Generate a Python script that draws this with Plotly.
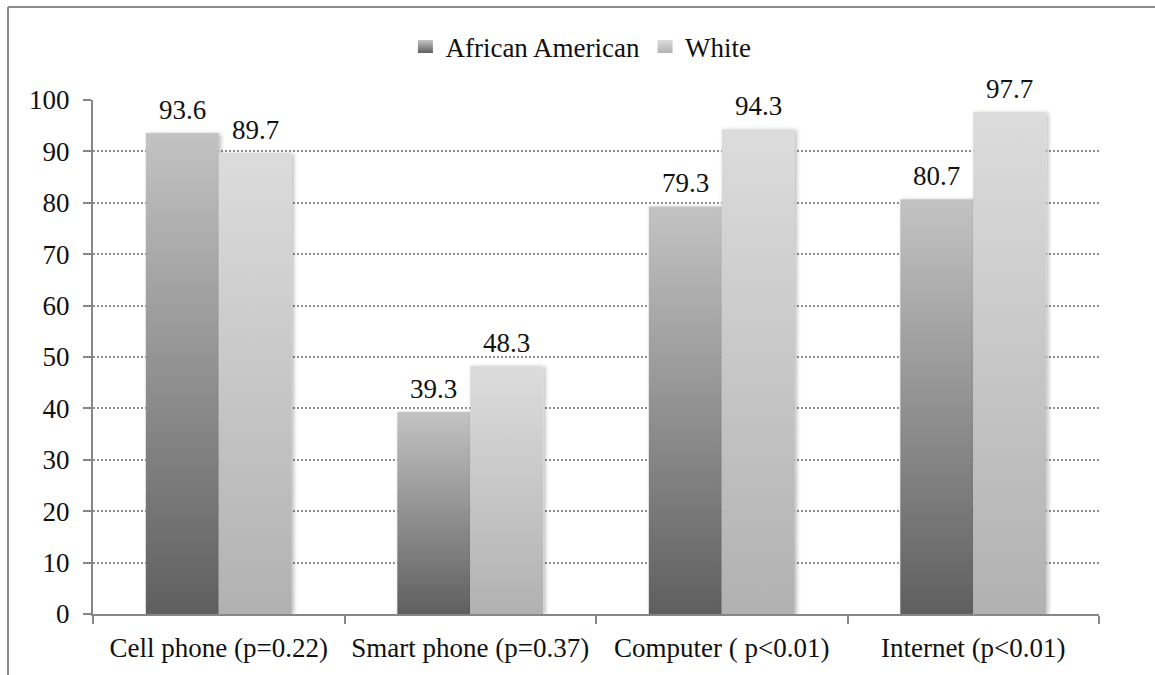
import json
import plotly.graph_objects as go

# Device-ownership rates (%) by group
categories = ["Cell phone (p=0.22)", "Smart phone (p=0.37)", "Computer ( p<0.01)", "Internet (p<0.01)"]
african_american = [93.6, 39.3, 79.3, 80.7]
white = [89.7, 48.3, 94.3, 97.7]
y_ticks = [0, 10, 20, 30, 40, 50, 60, 70, 80, 90, 100]

W, H = 1155, 675
ML, MR, MT, MB = 93, 56, 100, 61
FONT = "Liberation Serif"
FS = 27
AXIS_GREY = "#878787"
BARGAP = 0.42

# bottom -> top gradient stops for each series
GRADIENTS = [
    ["#5f5f5f", "#c3c3c3"],
    ["#b1b1b1", "#dcdcdc"],
]

series = [("African American", african_american, "#909090"),
          ("White", white, "#c8c8c8")]

fig = go.Figure()
for name, vals, col in series:
    fig.add_trace(go.Bar(
        name=name, x=categories, y=vals,
        marker=dict(color=col, line=dict(width=0)),
        cliponaxis=False,
    ))

# value labels above each bar, offset to the centre of its bar in the group
pw = W - ML - MR
ph = H - MT - MB
bar_px = pw / len(categories) * (1 - BARGAP) / len(series)
annotations = []
for k, (name, vals, _) in enumerate(series):
    shift = (k - (len(series) - 1) / 2) * bar_px
    for c, v in zip(categories, vals):
        annotations.append(dict(
            x=c, y=v, xref="x", yref="y", text=f"{v:.1f}", showarrow=False,
            xshift=shift, yshift=23, yanchor="middle", xanchor="center",
            font=dict(family=FONT, size=FS, color="#111"),
        ))

# frame line along the top and left edges of the figure
def px_x(p):
    return (p - ML) / pw
def px_y(p):
    return 1 - (p - MT) / ph

frame = dict(type="line", xref="paper", yref="paper", line=dict(color="#8c8c8c", width=2), layer="above")
shapes = [
    dict(frame, x0=px_x(8), x1=px_x(W + 2), y0=px_y(7), y1=px_y(7)),
    dict(frame, x0=px_x(8), x1=px_x(8), y0=px_y(7), y1=px_y(H + 2)),
]

fig.update_layout(
    width=W, height=H,
    margin=dict(l=ML, r=MR, t=MT, b=MB, autoexpand=False),
    paper_bgcolor="white", plot_bgcolor="white",
    barmode="group", bargap=BARGAP, bargroupgap=0,
    font=dict(family=FONT, size=FS, color="#111"),
    showlegend=True,
    legend=dict(orientation="h", x=0.485, xanchor="center", y=px_y(47), yanchor="middle",
                font=dict(family=FONT, size=FS, color="#111"),
                itemwidth=30, tracegroupgap=0, bgcolor="rgba(0,0,0,0)"),
    shapes=shapes,
    annotations=annotations,
    xaxis=dict(
        type="category", showline=True, linecolor=AXIS_GREY, linewidth=2,
        ticks="outside", ticklen=8, tickwidth=2, tickcolor=AXIS_GREY,
        tickson="boundaries", showgrid=False, zeroline=False,
        tickangle=0, automargin=False,
        tickfont=dict(family=FONT, size=FS, color="#111"),
        ticklabelstandoff=9,
    ),
    yaxis=dict(
        range=[0, 100], tickvals=y_ticks, showline=True, linecolor=AXIS_GREY, linewidth=2,
        ticks="outside", ticklen=8, tickwidth=2, tickcolor=AXIS_GREY,
        showgrid=True, gridcolor="#8e8e8e", gridwidth=1.5, griddash="2px,2px",
        zeroline=False, automargin=False,
        tickfont=dict(family=FONT, size=FS, color="#111"),
        ticklabelstandoff=8,
    ),
)

post_js = """
(function(){
  var gd = document.getElementById('{plot_id}');
  var stops = %s;
  var NS = 'http://www.w3.org/2000/svg';
  function ensureDefs(){
    if (document.getElementById('barGrad0')) return;
    var svg = document.createElementNS(NS, 'svg');
    svg.setAttribute('width', 0); svg.setAttribute('height', 0);
    svg.style.position = 'absolute';
    var defs = document.createElementNS(NS, 'defs');
    stops.forEach(function(s, i){
      var g = document.createElementNS(NS, 'linearGradient');
      g.setAttribute('id', 'barGrad' + i);
      g.setAttribute('x1', '0'); g.setAttribute('y1', '1');
      g.setAttribute('x2', '0'); g.setAttribute('y2', '0');
      [[0, s[0]], [1, s[1]]].forEach(function(st){
        var e = document.createElementNS(NS, 'stop');
        e.setAttribute('offset', st[0]); e.setAttribute('stop-color', st[1]);
        g.appendChild(e);
      });
      defs.appendChild(g);
    });
    var f = document.createElementNS(NS, 'filter');
    f.setAttribute('id', 'barShadow');
    f.setAttribute('x', '-10%%'); f.setAttribute('y', '-10%%');
    f.setAttribute('width', '130%%'); f.setAttribute('height', '120%%');
    var ds = document.createElementNS(NS, 'feDropShadow');
    ds.setAttribute('dx', '2'); ds.setAttribute('dy', '1');
    ds.setAttribute('stdDeviation', '2');
    ds.setAttribute('flood-color', '#000'); ds.setAttribute('flood-opacity', '0.28');
    f.appendChild(ds);
    defs.appendChild(f);
    svg.appendChild(defs);
    document.body.insertBefore(svg, document.body.firstChild);
  }
  function paint(){
    ensureDefs();
    gd.querySelectorAll('.barlayer .trace.bars').forEach(function(t, i){
      t.querySelectorAll('.point path').forEach(function(p){
        p.style.fill = 'url(#barGrad' + i + ')';
        p.setAttribute('filter', 'url(#barShadow)');
      });
    });
    gd.querySelectorAll('.legend .traces').forEach(function(t, i){
      t.querySelectorAll('.legendpoints path').forEach(function(p){
        p.style.fill = 'url(#barGrad' + i + ')';
        p.setAttribute('d', 'M7.5,6.5H-7.5V-6.5H7.5Z');
      });
    });
  }
  paint();
  gd.on('plotly_afterplot', paint);
})();
""" % json.dumps(GRADIENTS)

fig.write_html("out.html", post_script=post_js)
